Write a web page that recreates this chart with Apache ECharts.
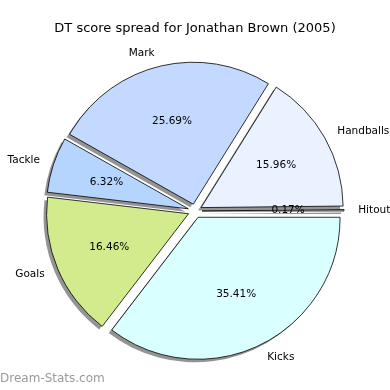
<!DOCTYPE html>
<html>
<head>
<meta charset="utf-8">
<script src="https://cdn.jsdelivr.net/npm/echarts@6/dist/echarts.min.js"></script>
<style>
html,body{margin:0;padding:0;background:#fff;}
#chart{width:390px;height:390px;}
</style>
</head>
<body>
<div id="chart"></div>
<script>
// Data (counter-clockwise from 3 o'clock)
var categories = ['Hitout', 'Handballs', 'Mark', 'Tackle', 'Goals', 'Kicks'];
var percentages = [0.17, 15.96, 25.69, 6.32, 16.46, 35.41];
var sliceColors = ['#d0d0d0', '#eaf2ff', '#c4d9ff', '#b5d5ff', '#d1eb8d', '#d9ffff'];
var titleText = 'DT score spread for Jonathan Brown (2005)';
var watermark = 'Dream-Stats.com';

var R = 142;
var OFFSET = 7;
var CX = 195, CY = 211;
var FONT = 'DejaVu Sans';

function makeData(withColor, color) {
  return categories.map(function (c, i) {
    var d = { name: c, value: percentages[i], selected: true };
    if (withColor) d.itemStyle = { color: color || sliceColors[i] };
    return d;
  });
}

var common = {
  type: 'pie',
  startAngle: 0,
  clockwise: false,
  selectedMode: 'multiple',
  selectedOffset: OFFSET,
  avoidLabelOverlap: false,
  silent: true,
  emphasis: { disabled: true }
};

var chart = echarts.init(document.getElementById('chart'), null, { renderer: 'canvas' });
chart.setOption({
  backgroundColor: '#ffffff',
  animation: false,
  title: [{
    text: titleText, left: 'center', top: 17,
    textStyle: { fontFamily: FONT, fontSize: 13, fontWeight: 'normal', color: '#000' }
  }, {
    text: watermark, left: 0, top: 373, padding: 0,
    textStyle: { fontFamily: FONT, fontSize: 12, fontWeight: 'normal', color: '#9a9a9a' }
  }],
  series: [
    Object.assign({}, common, {
      name: 'shadow',
      center: [CX - 3, CY + 3],
      radius: [0, R],
      z: 1,
      itemStyle: { color: 'rgba(0,0,0,0.42)', borderWidth: 0 },
      select: { itemStyle: { color: 'rgba(0,0,0,0.42)', borderWidth: 0 } },
      label: { show: false },
      labelLine: { show: false },
      data: makeData(false)
    }),
    Object.assign({}, common, {
      name: 'main',
      center: [CX, CY],
      radius: [0, R],
      z: 2,
      itemStyle: { borderColor: '#000', borderWidth: 0.8 },
      select: { itemStyle: { borderColor: '#000', borderWidth: 0.8 } },
      label: {
        show: true, position: 'outside', fontFamily: FONT, fontSize: 10.5, color: '#000',
        distanceToLabelLine: 0, formatter: '{b}'
      },
      labelLine: { show: false, length: R * 0.1, length2: 0 },
      data: makeData(true)
    }),
    Object.assign({}, common, {
      name: 'pct',
      center: [CX, CY],
      radius: [R * 0.17, R],
      z: 5,
      itemStyle: { color: 'rgba(0,0,0,0)', borderWidth: 0 },
      select: { itemStyle: { color: 'rgba(0,0,0,0)', borderWidth: 0 } },
      label: {
        show: true, position: 'inside', fontFamily: FONT, fontSize: 10.5, color: '#000',
        formatter: function (p) { return p.value.toFixed(2) + '%'; }
      },
      labelLine: { show: false },
      data: makeData(false)
    })
  ]
});
</script>
</body>
</html>
